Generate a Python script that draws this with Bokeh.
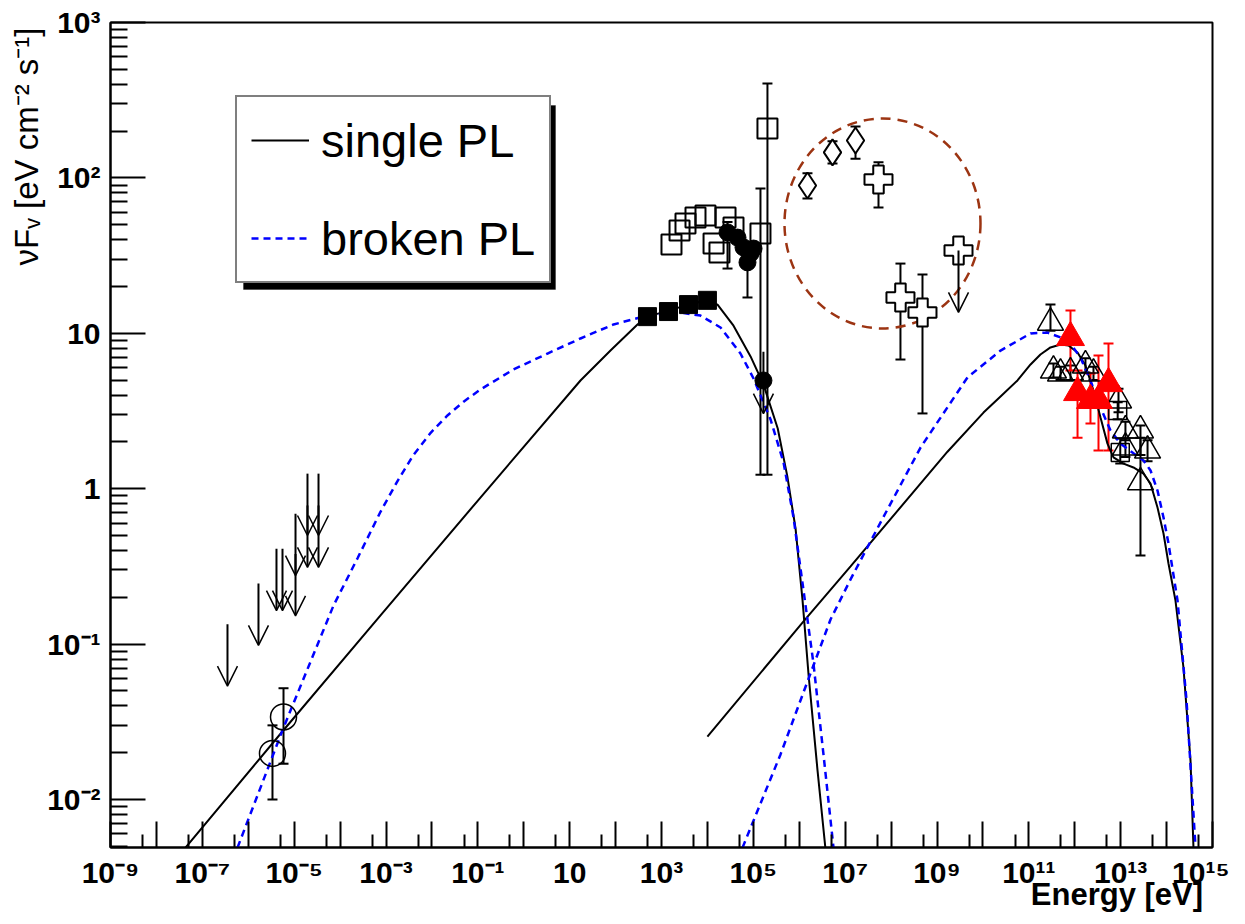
import math
from bokeh.plotting import figure
from bokeh.models import (Range1d, FixedTicker, Whisker, TeeHead, Arrow, OpenHead, Title, LogAxis,
                          ColumnDataSource, Legend, LegendItem, BoxAnnotation)
from bokeh.embed import file_html
from bokeh.resources import INLINE

# ---------------- data ----------------
# model curves (nuF_nu [eV cm^-2 s^-1] vs energy [eV])
sync_single_E = [4.3e-8, 5.9e-6, 7.6e-4, 0.114, 17.2, 77.5, 300, 495, 1420, 3870, 1.0e4, 1.66e4,
                 3.7e4, 8.7e4, 1.66e5, 3.4e5, 5.5e5, 8.3e5, 1.18e6, 1.6e6, 2.5e6, 3.7e6]
sync_single_F = [4.9e-3, 2.8e-2, 0.153, 0.877, 4.97, 7.75, 11.4, 12.8, 14.0, 15.3, 16.3, 15.3,
                 11.2, 7.10, 4.69, 2.44, 1.20, 0.555, 0.191, 0.0628, 0.0154, 0.0049]
ic_single_E = [1.0e4, 1.24e6, 1.31e7, 1.69e9, 1.03e10, 2.42e10, 5.66e10, 1.09e11, 1.79e11,
               2.96e11, 4.90e11, 7.31e11, 1.15e12, 1.71e12, 2.56e12, 3.64e12, 5.16e12, 6.98e12,
               1.15e13, 1.90e13, 3.14e13, 4.47e13, 6.34e13, 8.57e13, 1.10e14, 1.56e14, 2.33e14,
               3.32e14, 3.85e14]
ic_single_F = [0.0254, 0.140, 0.316, 1.73, 3.09, 3.92, 4.97, 6.30, 7.31, 8.11, 8.47, 8.35, 7.52,
               6.21, 4.28, 2.87, 1.95, 1.59, 1.45, 1.37, 1.25, 1.08, 0.757, 0.515, 0.330, 0.191,
               0.0707, 0.0178, 0.0049]
sync_broken_E = [5.83e-7, 5.86e-6, 7.19e-5, 2.4e-4, 7.59e-4, 1.78e-3, 3.97e-3, 9.4e-3, 2.18e-2,
                 4.9e-2, 0.114, 0.598, 3.29, 17.2, 90.2, 495, 2590, 7060, 1.93e4, 5.25e4, 1.01e5,
                 2.37e5, 4.54e5, 7.50e5, 1.24e6, 2.04e6, 3.37e6, 5.57e6]
sync_broken_F = [4.9e-3, 0.0290, 0.177, 0.357, 0.71, 1.12, 1.65, 2.29, 2.96, 3.63, 4.35, 5.85,
                 7.41, 9.26, 11.4, 13.0, 13.6, 13.0, 10.9, 7.41, 5.12, 2.79, 1.48, 0.653, 0.221,
                 0.0750, 0.0195, 0.0049]
ic_broken_E = [5.81e4, 3.91e5, 1.51e6, 4.80e6, 1.31e7, 5.87e7, 4.38e8, 4.61e9, 2.42e10, 1.09e11,
               2.55e11, 4.90e11, 8.07e11, 1.33e12, 2.20e12, 3.64e12, 6.00e12, 9.91e12, 1.90e13,
               3.14e13, 4.47e13, 6.34e13, 8.57e13, 1.10e14, 1.73e14, 2.72e14, 4.27e14]
ic_broken_F = [0.0049, 0.0195, 0.0574, 0.144, 0.261, 0.605, 1.84, 5.20, 7.74, 9.98, 10.1, 9.40,
               8.59, 6.98, 4.97, 3.33, 2.37, 1.95, 1.69, 1.52, 1.31, 0.973, 0.653, 0.444, 0.191,
               0.0434, 0.0049]

# radio (open circles)
radio_E = [3.37e-6, 5.86e-6]
radio_F = [0.0198, 0.034]
radio_lo = [0.010, 0.017]
radio_hi = [0.030, 0.052]

# upper limits (arrows)
ul_E = [3.53e-7, 1.67e-6, 4.12e-6, 5.57e-6, 1.07e-5, 1.07e-5, 1.95e-5, 1.95e-5, 3.39e-5, 3.39e-5,
        1.66e5, 2.94e9]
ul_F = [0.134, 0.245, 0.41, 0.41, 0.69, 0.38, 1.25, 0.78, 1.25, 0.78, 7.6, 34.1]

# soft X-ray (filled squares)
xs_E = [495, 1420, 3870, 1.0e4]
xs_F = [12.8, 13.8, 15.3, 16.3]

# hard X-ray (open squares)
hx_E = [1650, 2470, 3330, 5500, 9080, 1.36e4, 1.83e4, 2.48e4, 3.70e4, 1.43e5, 2.03e5]
hx_F = [37.3, 45.9, 50.9, 55.6, 57.3, 37.8, 33.1, 55.6, 48.0, 43.9, 208]
hx_err_E = [1.43e5, 2.03e5]
hx_err_lo = [1.23, 1.23]
hx_err_hi = [85.5, 405]

# hard X-ray (filled circles)
fc_E = [2.74e4, 4.52e4, 6.11e4, 8.67e4, 1.01e5, 7.46e4, 1.66e5]
fc_F = [44.6, 41.3, 35.7, 32.6, 35.1, 28.6, 4.97]
fc_err_E = [2.74e4, 7.46e4]
fc_err_lo = [26.1, 17.0]
fc_err_hi = [52.0, 33.0]

# MeV (open diamonds)
dm_E = [1.51e6, 5.30e6, 1.68e7]
dm_F = [89.3, 146, 174]
dm_lo = [73.7, 124, 133]
dm_hi = [107, 172, 214]

# GeV (open crosses)
cr_E = [5.32e7, 1.60e8, 4.83e8, 2.94e9]
cr_F = [97.7, 17.0, 13.6, 34.1]
cr_lo = [64.5, 6.78, 3.05, 34.1]
cr_hi = [126, 28.1, 23.9, 41.3]

# TeV (open triangles)
tv_E = [2.96e11, 3.44e11, 4.90e11, 8.07e11, 1.71e12, 2.56e12, 8.97e12, 1.27e13, 2.70e13,
        1.27e13, 3.85e13, 2.70e13]
tv_F = [11.7, 5.76, 5.51, 5.60, 6.21, 5.51, 3.70, 2.37, 2.37, 1.84, 1.76, 1.10]
tv_lo = [10.4, 5.2, 5.0, 5.0, 5.6, 5.0, 3.1, 2.05, 1.65, 1.6, 1.5, 0.372]
tv_hi = [15.3, 6.4, 6.1, 6.2, 6.9, 6.1, 4.4, 2.7, 2.55, 2.1, 2.05, 2.13]

# TeV (open squares)
hs_E = [8.61e12, 9.8e12]
hs_F = [3.18, 1.71]
hs_lo = [2.8, 1.45]
hs_hi = [3.6, 2.1]

# TeV (red filled triangles)
rd_E = [8.07e11, 1.15e12, 2.20e12, 3.29e12, 5.43e12]
rd_F = [9.40, 4.16, 3.70, 3.70, 4.75]
rd_lo = [5.76, 2.13, 2.63, 1.76, 1.76]
rd_hi = [14.0, 5.76, 5.51, 7.20, 8.59]

# highlighted region (dashed circle) centre
circ_E = [6.5e7]
circ_F = [50.9]

# axes
X_MIN, X_MAX = 1e-9, 1e15
Y_MIN, Y_MAX = 0.00491, 1e3
x_exponents = list(range(-9, 16))
x_labels = {-9: "10⁻⁹", -7: "10⁻⁷", -5: "10⁻⁵", -3: "10⁻³", -1: "10⁻¹", 1: "10",
            3: "10³", 5: "10⁵", 7: "10⁷", 9: "10⁹", 11: "10¹¹", 13: "10¹³", 15: "10¹⁵"}
y_exponents = list(range(-2, 4))
y_labels = {-2: "10⁻²", -1: "10⁻¹", 0: "1", 1: "10", 2: "10²", 3: "10³"}
x_title = "Energy [eV]"
y_title = "νFᵥ [eV cm⁻² s⁻¹]"
legend_labels = ["single PL", "broken PL"]
X_TITLE_AT = 10 ** 12.92   # the x title sits at the bottom right, centred here

# ---------------- figure ----------------
p = figure(x_axis_type="log", y_axis_type="log",
           x_range=Range1d(X_MIN, X_MAX), y_range=Range1d(Y_MIN, Y_MAX),
           frame_width=1102, frame_height=825,
           min_border_left=110, min_border_right=17, min_border_top=22, min_border_bottom=61,
           output_backend="svg", toolbar_location=None,
           background_fill_color="white", border_fill_color="white")
p.xgrid.visible = False
p.ygrid.visible = False
p.outline_line_color = "black"
p.outline_line_width = 2

FONT = "Liberation Sans"

x_major = [10.0 ** k for k in x_exponents]
x_minor = [5 * 10.0 ** k for k in x_exponents[:-1]]
p.xaxis.ticker = FixedTicker(ticks=x_major, minor_ticks=x_minor)
p.xaxis.major_label_overrides = {10.0 ** k: x_labels.get(k, "") for k in x_exponents}
y_major = [10.0 ** k for k in y_exponents]
y_minor = [m * 10.0 ** k for k in range(-3, 3) for m in range(2, 10) if m * 10.0 ** k > Y_MIN]
p.yaxis.ticker = FixedTicker(ticks=y_major, minor_ticks=y_minor)
p.yaxis.major_label_overrides = {10.0 ** k: y_labels[k] for k in y_exponents}

for ax, tin, tmin in ((p.xaxis, 26, 13), (p.yaxis, 35, 17)):
    ax.axis_line_width = 2
    ax.axis_line_color = "black"
    ax.major_tick_in = tin
    ax.major_tick_out = 0
    ax.minor_tick_in = tmin
    ax.minor_tick_out = 0
    ax.major_tick_line_width = 2
    ax.minor_tick_line_width = 2
    ax.major_tick_line_color = "black"
    ax.minor_tick_line_color = "black"
    ax.major_label_text_font = FONT
    ax.major_label_text_font_size = "30px"
    ax.major_label_text_font_style = "bold"
    ax.major_label_text_color = "black"
p.xaxis.major_label_standoff = 8
p.yaxis.major_label_standoff = 10

# x title: carried as the single label of a bare helper axis below the main one
title_axis = LogAxis(ticker=FixedTicker(ticks=[X_TITLE_AT], minor_ticks=[]),
                     major_label_overrides={X_TITLE_AT: x_title},
                     axis_line_color=None, major_tick_line_color=None, minor_tick_line_color=None,
                     major_tick_in=0, major_tick_out=0, minor_tick_in=0, minor_tick_out=0,
                     major_label_standoff=-15,
                     major_label_text_font=FONT, major_label_text_font_size="31px",
                     major_label_text_font_style="bold", major_label_text_color="black")
p.add_layout(title_axis, "below")

# y title at the top end of the y axis
p.add_layout(Title(text=y_title, align="right", text_font=FONT, text_font_size="33px",
                   text_font_style="normal", text_color="black", standoff=0, offset=5), "left")

# ---------------- curves ----------------
r_single = p.line(sync_single_E, sync_single_F, line_color="black", line_width=2)
p.line(ic_single_E, ic_single_F, line_color="black", line_width=2)
r_broken = p.line(sync_broken_E, sync_broken_F, line_color="blue", line_width=2.5, line_dash="7 5")
p.line(ic_broken_E, ic_broken_F, line_color="blue", line_width=2.5, line_dash="7 5")

# highlight circle
p.ellipse(x=circ_E, y=circ_F, width=196, height=210, width_units="screen", height_units="screen",
          fill_color=None, line_color="#9c3412", line_width=2.5, line_dash="10 7")


def whiskers(E, lo, hi, color="black"):
    src = ColumnDataSource(dict(x=E, lo=lo, hi=hi))
    w = Whisker(base="x", lower="lo", upper="hi", source=src, dimension="height",
                line_color=color, line_width=2,
                upper_head=TeeHead(size=10, line_width=2, line_color=color),
                lower_head=TeeHead(size=10, line_width=2, line_color=color))
    p.add_layout(w)


# upper limits
ul_src = ColumnDataSource(dict(x=ul_E, y=ul_F, tip=[v * 0.4 for v in ul_F]))
p.add_layout(Arrow(x_start="x", y_start="y", x_end="x", y_end="tip", source=ul_src,
                   line_color="black", line_width=2,
                   end=OpenHead(size=20, line_width=1.5, line_color="black")))

# radio
whiskers(radio_E, radio_lo, radio_hi)
p.scatter(radio_E, radio_F, marker="circle", size=26, fill_color=None, line_color="black", line_width=1.5)

# X-ray
whiskers(hx_err_E, hx_err_lo, hx_err_hi)
p.scatter(hx_E, hx_F, marker="square", size=20, fill_color=None, line_color="black", line_width=2)
whiskers(fc_err_E, fc_err_lo, fc_err_hi)
p.scatter(fc_E, fc_F, marker="circle", size=17, fill_color="black", line_color="black")
p.scatter(xs_E, xs_F, marker="square", size=18, fill_color="black", line_color="black")

# MeV / GeV
whiskers(dm_E, dm_lo, dm_hi)
p.scatter(dm_E, dm_F, marker="diamond", size=26, fill_color="white", line_color="black", line_width=2)
whiskers(cr_E, cr_lo, cr_hi)
p.scatter(cr_E, cr_F, marker="plus", size=28, fill_color="white", line_color="black", line_width=2)

# TeV
whiskers(tv_E, tv_lo, tv_hi)
p.scatter(tv_E, tv_F, marker="triangle", size=26, fill_color=None, line_color="black", line_width=1.5)
whiskers(hs_E, hs_lo, hs_hi)
p.scatter(hs_E, hs_F, marker="square", size=18, fill_color=None, line_color="black", line_width=1.5)
whiskers(rd_E, rd_lo, rd_hi, color="red")
p.scatter(rd_E, rd_F, marker="triangle", size=28, fill_color="red", line_color="red")

# ---------------- legend ----------------
shadow = BoxAnnotation(left=133, right=445, bottom=558, top=742,
                       left_units="screen", right_units="screen", top_units="screen", bottom_units="screen",
                       fill_color="black", fill_alpha=1, line_color="black")
p.add_layout(shadow)
legend = Legend(items=[LegendItem(label=legend_labels[0], renderers=[r_single]),
                       LegendItem(label=legend_labels[1], renderers=[r_broken])],
                location=(125, 564), margin=0, padding=14, spacing=40,
                glyph_width=58, glyph_height=58, label_standoff=12,
                label_text_font=FONT, label_text_font_size="47px", label_text_color="black",
                border_line_color="black", border_line_width=2,
                background_fill_color="white", background_fill_alpha=1)
p.add_layout(legend)

open("out.html", "w").write(file_html(p, INLINE))
